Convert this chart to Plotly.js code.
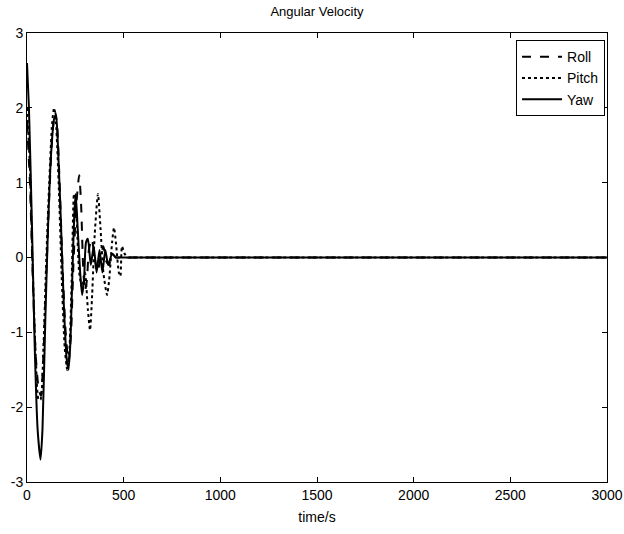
<!DOCTYPE html>
<html>
<head>
<meta charset="utf-8">
<script src="https://cdn.plot.ly/plotly-3.0.1.min.js"></script>
<style>html,body{margin:0;padding:0;background:#fff;}#chart{width:624px;height:534px;}</style>
</head>
<body>
<div id="chart"></div>
<script>
// Roll (dashed)
const rollT = [0,15,30,45,60,72,85,100,115,130,145,155,170,185,200,215,228,240,255,270,280,290,300,310,320,335,350,365,380,395,410,425,440,460,480,520,600,3000];
const rollV = [1.8,1.0,-0.3,-1.3,-1.75,-1.85,-1.3,-0.2,0.8,1.6,1.95,1.8,0.9,-0.2,-1.0,-1.4,-1.0,-0.1,0.7,1.1,0.7,-0.1,-0.45,-0.3,0.1,0.25,0.0,-0.2,0.0,0.15,-0.05,-0.1,0.05,0,0,0,0,0];
// Pitch (dotted)
const pitchT = [0,15,30,45,60,70,85,100,115,130,140,150,165,180,195,208,220,232,243,255,270,285,300,315,326,337,350,367,380,395,414,425,440,450,460,475,483,491,505,520,540,600,3000];
const pitchV = [2.0,1.2,-0.2,-1.3,-1.9,-1.9,-1.2,0.0,1.0,1.8,2.0,1.8,0.9,-0.3,-1.2,-1.5,-1.2,-0.2,0.85,0.6,-0.2,-0.4,-0.2,-0.7,-0.97,-0.5,0.3,0.85,0.4,-0.2,-0.5,-0.3,0.2,0.4,0.2,-0.2,-0.25,0.15,0.05,0,0,0,0];
// Yaw (solid)
const yawT = [0,10,25,40,55,70,80,95,110,125,140,150,160,175,190,205,215,225,235,245,252,262,275,285,295,305,315,330,345,360,375,390,405,420,440,460,480,520,600,3000];
const yawV = [2.6,2.0,0.5,-1.2,-2.3,-2.7,-2.3,-0.8,0.5,1.4,1.85,1.9,1.5,0.5,-0.6,-1.35,-1.5,-1.1,-0.2,0.6,0.85,0.4,-0.2,-0.5,-0.3,0.2,0.25,-0.1,0.15,-0.2,0.1,-0.2,0.1,-0.1,0.05,0,0,0,0,0];

const xTicks = [0,500,1000,1500,2000,2500,3000];
const yTicks = [-3,-2,-1,0,1,2,3];

const traces = [
  {x: rollT, y: rollV, name: 'Roll', mode: 'lines', line: {color: '#000', width: 2, dash: 'dash', shape: 'spline', smoothing: 0.6}},
  {x: pitchT, y: pitchV, name: 'Pitch', mode: 'lines', line: {color: '#000', width: 2, dash: 'dot', shape: 'spline', smoothing: 0.6}},
  {x: yawT, y: yawV, name: 'Yaw', mode: 'lines', line: {color: '#000', width: 2, shape: 'spline', smoothing: 0.6}}
];

const axisCommon = {
  showline: true, linecolor: '#000', linewidth: 1, mirror: 'ticks',
  ticks: 'inside', ticklen: 5, tickcolor: '#000', showgrid: false, zeroline: false,
  tickfont: {family: 'Liberation Sans, Arial, sans-serif', size: 14, color: '#000'}
};

const layout = {
  width: 624, height: 534,
  paper_bgcolor: '#fff', plot_bgcolor: '#fff',
  margin: {l: 27, r: 17, t: 33, b: 52},
  title: {text: 'Angular Velocity', font: {family: 'Liberation Sans, Arial, sans-serif', size: 13, color: '#000'}, x: 0.5, xref: 'paper', y: 0.979, yanchor: 'middle'},
  xaxis: Object.assign({}, axisCommon, {range: [0, 3000], tickvals: xTicks, ticktext: xTicks.map(String),
    title: {text: 'time/s', font: {family: 'Liberation Sans, Arial, sans-serif', size: 14, color: '#000'}, standoff: 10}}),
  yaxis: Object.assign({}, axisCommon, {range: [-3, 3], tickvals: yTicks, ticktext: yTicks.map(String)}),
  showlegend: true,
  legend: {x: 0.9966, xanchor: 'right', y: 0.984, yanchor: 'top', bgcolor: '#fff', bordercolor: '#000', borderwidth: 1,
    font: {family: 'Liberation Sans, Arial, sans-serif', size: 14, color: '#000'}, tracegroupgap: 0, itemwidth: 40}
};

Plotly.newPlot('chart', traces, layout, {displayModeBar: false, staticPlot: true});
</script>
</body>
</html>
